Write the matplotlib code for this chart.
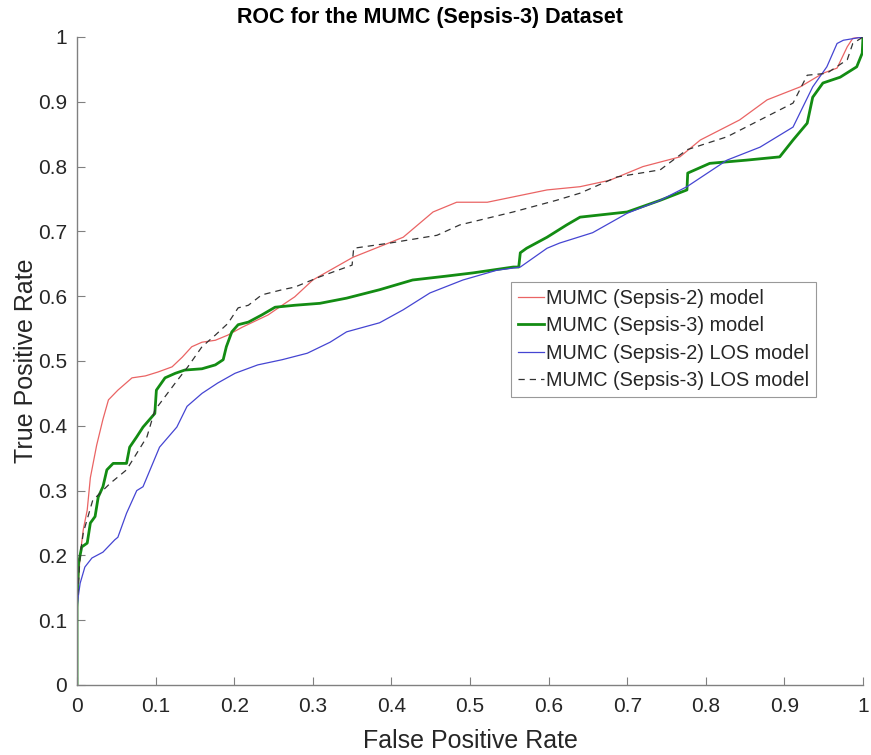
import matplotlib
matplotlib.use("Agg")
import matplotlib.pyplot as plt
from matplotlib.ticker import FuncFormatter

plt.rcParams['font.family'] = ['Liberation Sans', 'DejaVu Sans']

# --- data ---
s2_fpr = [0, 0, 0.004, 0.008, 0.013, 0.017, 0.025, 0.033, 0.04, 0.052, 0.07, 0.087, 0.103,
          0.121, 0.134, 0.146, 0.159, 0.176, 0.192, 0.21, 0.243, 0.261, 0.277, 0.300, 0.351,
          0.415, 0.453, 0.483, 0.522, 0.598, 0.640, 0.678, 0.72, 0.767, 0.793, 0.843, 0.878,
          0.92, 0.949, 0.967, 0.98, 0.987, 1.0]
s2_tpr = [0, 0.13, 0.2, 0.24, 0.27, 0.32, 0.37, 0.41, 0.44, 0.455, 0.474, 0.477, 0.483,
          0.491, 0.506, 0.522, 0.529, 0.532, 0.54, 0.552, 0.571, 0.586, 0.599, 0.625, 0.66,
          0.691, 0.73, 0.745, 0.745, 0.764, 0.769, 0.779, 0.8, 0.815, 0.841, 0.872, 0.903,
          0.923, 0.944, 0.952, 0.985, 0.998, 1.0]

s3_fpr = [0, 0, 0.002, 0.006, 0.013, 0.017, 0.023, 0.027, 0.033, 0.038, 0.046, 0.063, 0.067,
          0.076, 0.084, 0.099, 0.101, 0.112, 0.125, 0.137, 0.159, 0.176, 0.186, 0.19, 0.197,
          0.205, 0.218, 0.235, 0.252, 0.277, 0.309, 0.343, 0.385, 0.427, 0.47, 0.504, 0.555,
          0.562, 0.564, 0.572, 0.598, 0.623, 0.64, 0.70, 0.742, 0.776, 0.777, 0.805, 0.852,
          0.894, 0.911, 0.929, 0.936, 0.949, 0.971, 0.992, 0.999, 1.0]
s3_tpr = [0, 0.12, 0.188, 0.213, 0.219, 0.25, 0.26, 0.29, 0.306, 0.332, 0.342, 0.342, 0.367,
          0.383, 0.398, 0.419, 0.455, 0.474, 0.481, 0.486, 0.488, 0.494, 0.502, 0.522, 0.545,
          0.556, 0.56, 0.571, 0.583, 0.586, 0.589, 0.597, 0.61, 0.625, 0.631, 0.636, 0.645,
          0.645, 0.667, 0.674, 0.691, 0.71, 0.722, 0.73, 0.748, 0.764, 0.79, 0.805, 0.81,
          0.815, 0.841, 0.867, 0.907, 0.929, 0.938, 0.954, 0.975, 1.0]

s2los_fpr = [0, 0, 0.002, 0.004, 0.01, 0.019, 0.033, 0.048, 0.052, 0.063, 0.076, 0.084, 0.105,
             0.127, 0.14, 0.159, 0.179, 0.201, 0.23, 0.261, 0.293, 0.322, 0.343, 0.385, 0.415,
             0.449, 0.491, 0.534, 0.564, 0.598, 0.614, 0.656, 0.70, 0.742, 0.776, 0.827, 0.869,
             0.911, 0.936, 0.954, 0.967, 0.975, 1.0]
s2los_tpr = [0, 0.12, 0.14, 0.157, 0.182, 0.196, 0.205, 0.224, 0.228, 0.265, 0.3, 0.306, 0.367,
             0.398, 0.43, 0.45, 0.466, 0.481, 0.494, 0.502, 0.512, 0.529, 0.545, 0.559, 0.579,
             0.605, 0.625, 0.640, 0.645, 0.674, 0.682, 0.698, 0.728, 0.748, 0.769, 0.81, 0.83,
             0.861, 0.923, 0.954, 0.99, 0.995, 1.0]

s3los_fpr = [0, 0, 0.004, 0.008, 0.02, 0.042, 0.063, 0.089, 0.099, 0.125, 0.141, 0.159, 0.176,
             0.192, 0.205, 0.218, 0.235, 0.261, 0.277, 0.309, 0.35, 0.352, 0.398, 0.458, 0.487,
             0.555, 0.61, 0.64, 0.687, 0.742, 0.776, 0.827, 0.869, 0.911, 0.929, 0.954, 0.98,
             0.987, 1.0]
s3los_tpr = [0, 0.12, 0.2, 0.235, 0.285, 0.311, 0.332, 0.383, 0.424, 0.466, 0.491, 0.522, 0.54,
             0.558, 0.582, 0.586, 0.602, 0.61, 0.614, 0.63, 0.648, 0.674, 0.682, 0.694, 0.71,
             0.73, 0.748, 0.759, 0.784, 0.795, 0.826, 0.846, 0.872, 0.898, 0.941, 0.944, 0.965,
             0.99, 1.0]

labels = ["MUMC (Sepsis-2) model", "MUMC (Sepsis-3) model",
          "MUMC (Sepsis-2) LOS model", "MUMC (Sepsis-3) LOS model"]
ticks = [0, 0.1, 0.2, 0.3, 0.4, 0.5, 0.6, 0.7, 0.8, 0.9, 1]

fig = plt.figure(figsize=(8.71, 7.55), dpi=100)
ax = fig.add_axes([77/871, 1-685/755, (863-77)/871, (685-37)/755])

ax.plot(s2_fpr, s2_tpr, color='#ea6464', lw=0.9, label=labels[0])
ax.plot(s3_fpr, s3_tpr, color='#138c13', lw=2.0, label=labels[1])
ax.plot(s2los_fpr, s2los_tpr, color='#4545d2', lw=0.9, label=labels[2])
ax.plot(s3los_fpr, s3los_tpr, color='#333333', lw=0.9, ls=(0, (5, 4)), label=labels[3])

ax.set_xlim(0, 1)
ax.set_ylim(0, 1)
ax.set_xticks(ticks)
ax.set_yticks(ticks)
fmt = FuncFormatter(lambda v, p: ('%g' % v))
ax.xaxis.set_major_formatter(fmt)
ax.yaxis.set_major_formatter(fmt)

for s in ['top', 'right']:
    ax.spines[s].set_visible(False)
for s in ['left', 'bottom']:
    ax.spines[s].set_color('#808080')
    ax.spines[s].set_linewidth(1.0)
ax.tick_params(direction='in', length=6, width=0.8, color='#808080',
               labelcolor='#262626', labelsize=15, pad=7)
ax.tick_params(axis='x', pad=9)

ax.set_xlabel('False Positive Rate', fontsize=18, color='#262626', labelpad=9)
ax.set_ylabel('True Positive Rate', fontsize=18, color='#262626', labelpad=0)
fig.text(430/871, 1-18/755, 'ROC for the MUMC (Sepsis-3) Dataset', fontsize=15.5,
         fontweight='bold', color='#000000', ha='center', va='center')

leg = ax.legend(loc='upper left', bbox_to_anchor=((511-77)/786, (685-282)/648),
                fontsize=14.3, frameon=True, fancybox=False, handlelength=1.3,
                handletextpad=0.1, borderpad=0.35, labelspacing=0.42, borderaxespad=0)
leg.get_frame().set_edgecolor('#808080')
leg.get_frame().set_linewidth(0.8)
for t in leg.get_texts():
    t.set_color('#262626')

fig.savefig('out.png', dpi=100)
